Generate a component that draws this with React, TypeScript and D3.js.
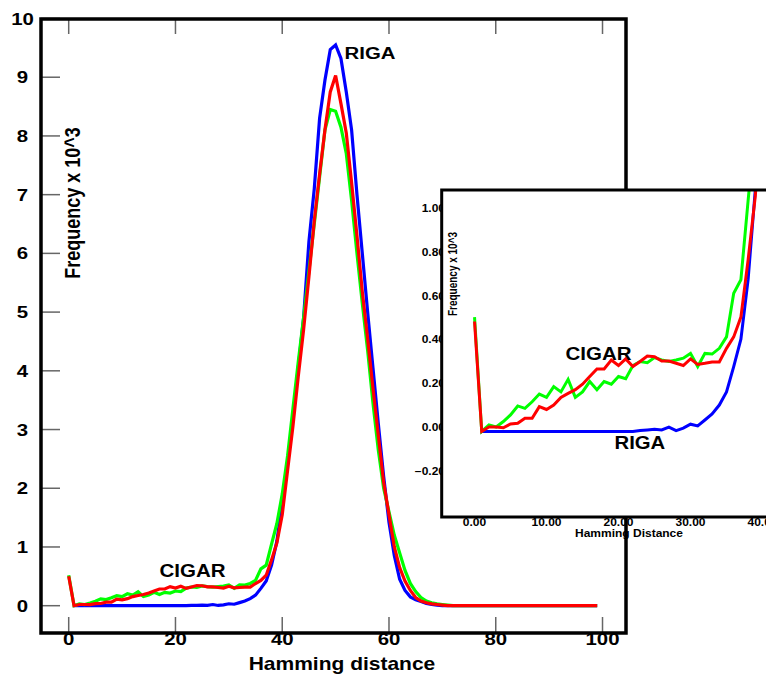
import { useEffect, useRef } from 'react';
import * as d3 from 'd3';

// Hamming distance 0..99
const hamming = [
  0, 1, 2, 3, 4, 5, 6, 7, 8, 9, 10, 11, 12, 13, 14, 15, 16, 17, 18, 19,
  20, 21, 22, 23, 24, 25, 26, 27, 28, 29, 30, 31, 32, 33, 34, 35, 36, 37, 38, 39,
  40, 41, 42, 43, 44, 45, 46, 47, 48, 49, 50, 51, 52, 53, 54, 55, 56, 57, 58, 59,
  60, 61, 62, 63, 64, 65, 66, 67, 68, 69, 70, 71, 72, 73, 74, 75, 76, 77, 78, 79,
  80, 81, 82, 83, 84, 85, 86, 87, 88, 89, 90, 91, 92, 93, 94, 95, 96, 97, 98, 99,
];

// frequency x 10^3
const riga = [
  null, 0, 0, 0, 0, 0, 0, 0, 0, 0,
  0, 0, 0, 0, 0, 0, 0, 0, 0, 0,
  0, 0, 0, 0.004, 0.007, 0.01, 0.007, 0.02, 0.004, 0.015,
  0.033, 0.025, 0.052, 0.08, 0.12, 0.18, 0.295, 0.42, 0.69, 1.1,
  1.75, 2.45, 3.2, 4.05, 4.9, 6.2, 7.1, 8.3, 8.95, 9.47,
  9.55, 9.32, 8.75, 8.1, 7.0, 6.0, 5.0, 4.05, 3.1, 2.2,
  1.42, 0.85, 0.45, 0.26, 0.15, 0.1, 0.07, 0.04, 0.02, 0.01,
  0, 0, 0, 0, 0, 0, 0, 0, 0, 0,
  0, 0, 0, 0, 0, 0, 0, 0, 0, 0,
  0, 0, 0, 0, 0, 0, 0, 0, 0, 0,
];

const cigarGreen = [
  0.52, 0, 0.03, 0.02, 0.045, 0.075, 0.116, 0.105, 0.135, 0.17,
  0.155, 0.204, 0.18, 0.237, 0.155, 0.18, 0.227, 0.19, 0.227, 0.215,
  0.25, 0.24, 0.3, 0.318, 0.313, 0.336, 0.325, 0.318, 0.325, 0.333,
  0.355, 0.295, 0.355, 0.352, 0.378, 0.43, 0.628, 0.69, 1.05, 1.4,
  1.9, 2.55, 3.35, 4.15, 4.9, 5.7, 6.5, 7.3, 8.1, 8.45,
  8.42, 8.15, 7.7, 6.9, 6.0, 5.15, 4.35, 3.45, 2.65, 2.0,
  1.6, 1.2, 0.9, 0.6, 0.38, 0.24, 0.14, 0.08, 0.05, 0.03,
  0.02, 0.01, 0, 0, 0, 0, 0, 0, 0, 0,
  0, 0, 0, 0, 0, 0, 0, 0, 0, 0,
  0, 0, 0, 0, 0, 0, 0, 0, 0, 0,
];

const cigarRed = [
  0.5, 0, 0.02, 0.02, 0.017, 0.034, 0.037, 0.06, 0.06, 0.113,
  0.1, 0.12, 0.155, 0.173, 0.19, 0.215, 0.25, 0.284, 0.284, 0.325,
  0.3, 0.33, 0.295, 0.318, 0.343, 0.34, 0.32, 0.32, 0.31, 0.3,
  0.33, 0.305, 0.31, 0.316, 0.316, 0.378, 0.43, 0.52, 0.78, 1.07,
  1.55, 2.3, 3.05, 3.9, 4.7, 5.6, 6.55, 7.35, 8.1, 8.75,
  9.03, 8.55, 8.05, 7.2, 6.3, 5.35, 4.55, 3.7, 2.9, 2.1,
  1.55, 1.0, 0.65, 0.42, 0.26, 0.14, 0.08, 0.05, 0.03, 0.02,
  0.01, 0, 0, 0, 0, 0, 0, 0, 0, 0,
  0, 0, 0, 0, 0, 0, 0, 0, 0, 0,
  0, 0, 0, 0, 0, 0, 0, 0, 0, 0,
];

const mainYTicks = [0, 1, 2, 3, 4, 5, 6, 7, 8, 9, 10];
const mainXTicks = [0, 20, 40, 60, 80, 100];
const insetYTicks = [1.0, 0.8, 0.6, 0.4, 0.2, 0.0, -0.2];
const insetXTicks = [0, 10, 20, 30, 40];

const series = [
  { name: 'RIGA', values: riga, color: '#0000ff' },
  { name: 'CIGAR green', values: cigarGreen, color: '#00ff00' },
  { name: 'CIGAR red', values: cigarRed, color: '#ff0000' },
];

const FONT = "Arial, 'Liberation Sans', sans-serif";

const App = () => {
  const svgRef = useRef(null);

  useEffect(() => {
    const W = 766;
    const H = 677;
    const svg = d3.select(svgRef.current);
    svg.selectAll('*').remove();
    svg.attr('width', W).attr('height', H);

    // stretched bold text, like the original picture
    const label = (g, str, x, y, size, sx, anchor = 'middle', rot = false) =>
      g.append('text')
        .attr('transform', `translate(${x},${y}) scale(${sx},1)${rot ? ' rotate(-90)' : ''}`)
        .attr('text-anchor', anchor)
        .style('font-family', FONT)
        .style('font-weight', 'bold')
        .style('font-size', `${size}px`)
        .attr('fill', '#000')
        .text(str);

    // ==========================================
    // MAIN CHART
    // ==========================================
    const x = d3.scaleLinear().domain([-5.19, 104.4]).range([41, 626]);
    const y = d3.scaleLinear().domain([-0.465, 10]).range([633, 18.5]);

    const main = svg.append('g');

    main.selectAll('line.ytick')
      .data(mainYTicks)
      .enter()
      .append('line')
      .attr('x1', 41).attr('x2', 60)
      .attr('y1', (d) => y(d)).attr('y2', (d) => y(d))
      .attr('stroke', '#666').attr('stroke-width', 1.5);

    main.selectAll('line.xtickb')
      .data(mainXTicks)
      .enter()
      .append('line')
      .attr('x1', (d) => x(d)).attr('x2', (d) => x(d))
      .attr('y1', 633).attr('y2', 617)
      .attr('stroke', '#666').attr('stroke-width', 1.5);

    main.selectAll('line.xtickt')
      .data(mainXTicks)
      .enter()
      .append('line')
      .attr('x1', (d) => x(d)).attr('x2', (d) => x(d))
      .attr('y1', 19).attr('y2', 34)
      .attr('stroke', '#666').attr('stroke-width', 1.5);

    mainYTicks.forEach((t) => label(main, String(t), 22.5, y(t) + 6, 17, 1.2));
    mainXTicks.forEach((t) => label(main, String(t), x(t), 645, 17, 1.2));

    label(main, 'Hamming distance', 342, 670, 17.5, 1.2);
    label(main, 'Frequency x 10^3', 80, 203, 18, 1.2, 'middle', true);

    const line = d3.line()
      .defined((d) => d != null)
      .x((d, i) => x(hamming[i]))
      .y((d) => y(d));

    series.forEach((s) => {
      main.append('path')
        .attr('d', line(s.values))
        .attr('fill', 'none')
        .attr('stroke', s.color)
        .attr('stroke-width', 3.2);
    });

    label(main, 'RIGA', 344.5, 58.5, 17, 1.2, 'start');
    label(main, 'CIGAR', 159.5, 576.5, 18, 1.14, 'start');

    main.append('rect')
      .attr('x', 41).attr('y', 19)
      .attr('width', 585).attr('height', 614)
      .attr('fill', 'none')
      .attr('stroke', '#000')
      .attr('stroke-width', 3.5);

    // ==========================================
    // INSET
    // ==========================================
    const ix = d3.scaleLinear().domain([-4.56, 45]).range([441.7, 798.5]);
    const iy = d3.scaleLinear().domain([-0.389, 1.098]).range([517, 190]);

    const inset = svg.append('g');
    const fmt = d3.format('.2f');

    // tick labels go under the inset's white plot area, as in the original
    insetYTicks.forEach((t) => label(inset, fmt(t), 445, iy(t), 10, 1.2, 'end'));
    insetXTicks.forEach((t) => label(inset, fmt(t), ix(t), 525.5, 10, 1.2));

    inset.append('rect')
      .attr('x', 441.7).attr('y', 190)
      .attr('width', 400).attr('height', 327)
      .attr('fill', '#fff');

    label(inset, 'Hamming Distance', 629, 536.5, 10, 1.2);
    label(inset, 'Frequency x 10^3', 456.5, 274, 10, 1.2, 'middle', true);

    svg.append('defs')
      .append('clipPath')
      .attr('id', 'inset-clip')
      .append('rect')
      .attr('x', 441.7).attr('y', 190)
      .attr('width', 400).attr('height', 327);

    const iline = d3.line()
      .defined((d) => d != null)
      .x((d, i) => ix(hamming[i]))
      .y((d) => iy(d));

    const plot = inset.append('g').attr('clip-path', 'url(#inset-clip)');
    series.forEach((s) => {
      plot.append('path')
        .attr('d', iline(s.values))
        .attr('fill', 'none')
        .attr('stroke', s.color)
        .attr('stroke-width', 3);
    });

    label(inset, 'CIGAR', 565.5, 359.5, 18, 1.14, 'start');
    label(inset, 'RIGA', 614.5, 448.5, 17.5, 1.16, 'start');

    inset.append('rect')
      .attr('x', 441.7).attr('y', 190)
      .attr('width', 400).attr('height', 327)
      .attr('fill', 'none')
      .attr('stroke', '#000')
      .attr('stroke-width', 3);
  }, []);

  return (
    <div style={{ position: 'absolute', left: 0, top: 0, background: '#fff' }}>
      <svg ref={svgRef} style={{ display: 'block' }}></svg>
    </div>
  );
};

export default App;
